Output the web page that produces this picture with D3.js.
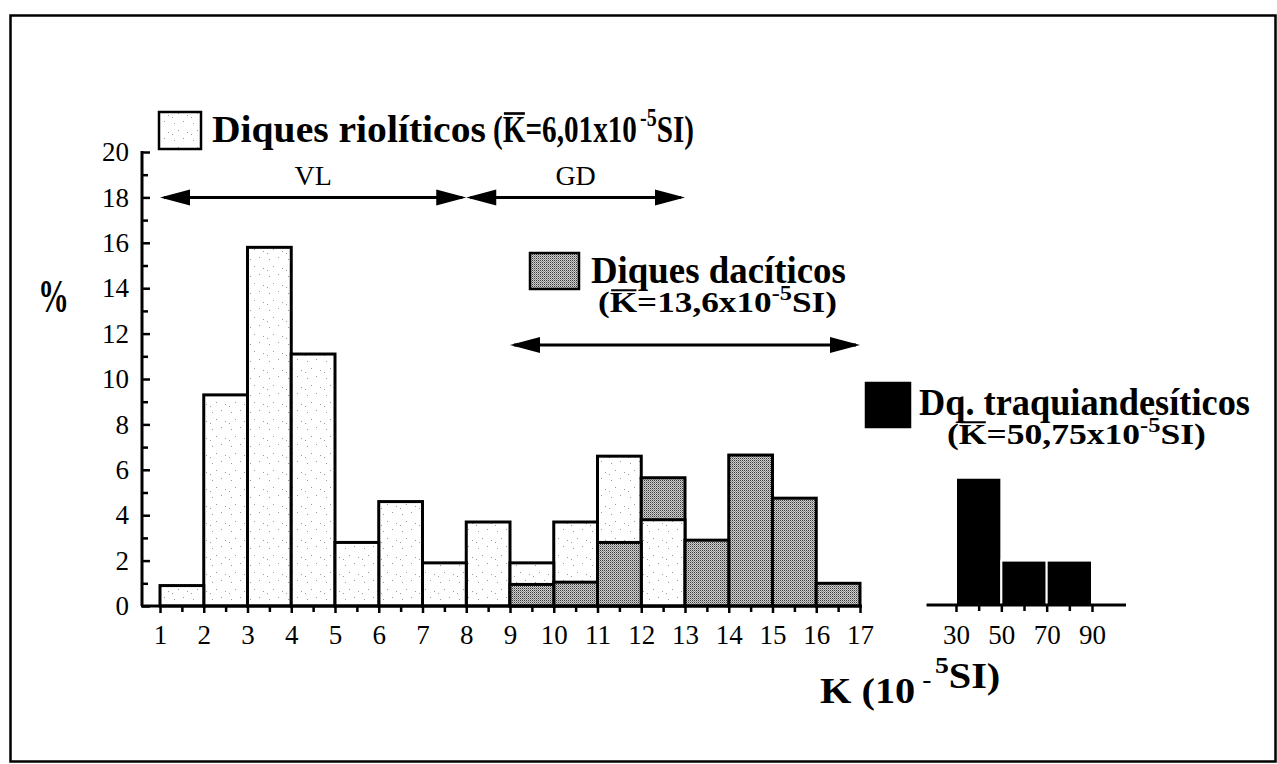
<!DOCTYPE html>
<html>
<head>
<meta charset="utf-8">
<script src="https://cdn.jsdelivr.net/npm/d3@7"></script>
<style>
  html, body { margin: 0; padding: 0; background: #fff; }
  svg text { font-family: "Liberation Serif", "Times New Roman", serif; fill: #000; }
</style>
</head>
<body>
<div id="root"></div>
<script>
// % of samples per bin of K (10^-5 SI), bins are 1 unit wide (left chart)
const rhyoliteBins = [1, 2, 3, 4, 5, 6, 7, 8, 9, 10, 11, 12]
const rhyoliteValues = [0.9, 9.3, 15.8, 11.1, 2.8, 4.6, 1.9, 3.7, 1.9, 3.7, 6.6, 3.8]

const daciteBins = [9, 10, 11, 12, 13, 14, 15, 16]
const daciteValues = [0.95, 1.05, 2.8, 5.65, 2.9, 6.65, 4.75, 1.0]

// right chart, bins 20 units wide
const traquiBins = [30, 50, 70]
const traquiValues = [5.65, 2.0, 2.0]

const yTickLabels = [0, 2, 4, 6, 8, 10, 12, 14, 16, 18, 20]
const xTickLabels = [1, 2, 3, 4, 5, 6, 7, 8, 9, 10, 11, 12, 13, 14, 15, 16, 17]
const traquiTickLabels = [30, 50, 70, 90]

// ranges drawn as arrows: [from, to, level]
const rangeVL = [1, 8, 18]
const rangeGD = [8, 13, 18]
const rangeDacite = [9, 17, 11.5]

const WIDTH = 1277
const HEIGHT = 764
const AXIS_X = 142

const svg = d3.select('#root')
    .append('svg')
    .attr('width', WIDTH)
    .attr('height', HEIGHT)

const x = d3.scaleLinear().domain([1, 17]).range([160, 860])
const y = d3.scaleLinear().domain([0, 20]).range([606, 152])
const x2 = d3.scaleLinear().domain([30, 90]).range([956, 1092])

// fills
const defs = svg.append('defs')
const rhyoPat = defs.append('pattern')
    .attr('id', 'rhyo')
    .attr('patternUnits', 'userSpaceOnUse')
    .attr('width', 19).attr('height', 17)
rhyoPat.append('rect').attr('width', 19).attr('height', 17).attr('fill', '#fff')
;[[3, 4], [12, 2], [7, 11], [16, 13], [1, 15]].forEach(([px, py]) => {
    rhyoPat.append('rect').attr('x', px).attr('y', py).attr('width', 1).attr('height', 1).attr('fill', '#9a9a9a')
})

const dacPat = defs.append('pattern')
    .attr('id', 'dac')
    .attr('patternUnits', 'userSpaceOnUse')
    .attr('width', 2).attr('height', 2)
dacPat.append('rect').attr('width', 2).attr('height', 2).attr('fill', '#cfcfcf')
dacPat.append('rect').attr('width', 1).attr('height', 1).attr('fill', '#3a3a3a')
dacPat.append('rect').attr('x', 1).attr('y', 1).attr('width', 1).attr('height', 1).attr('fill', '#8a8a8a')

// frame
svg.append('rect')
    .attr('x', 10.5).attr('y', 15.5)
    .attr('width', 1265).attr('height', 746)
    .attr('fill', 'none').attr('stroke', '#000').attr('stroke-width', 2.5)

// left histogram: rhyolite and dacite bars overlap, the taller is drawn behind
const bars = rhyoliteBins.map((b, i) => ({ b, v: rhyoliteValues[i], fill: 'url(#rhyo)' }))
    .concat(daciteBins.map((b, i) => ({ b, v: daciteValues[i], fill: 'url(#dac)' })))
    .sort((a, b) => b.v - a.v)

svg.append('g')
    .selectAll('rect')
    .data(bars)
    .enter()
    .append('rect')
    .attr('x', d => x(d.b))
    .attr('y', d => y(d.v))
    .attr('width', d => x(d.b + 1) - x(d.b))
    .attr('height', d => y(0) - y(d.v))
    .attr('fill', d => d.fill)
    .attr('stroke', '#000')
    .attr('stroke-width', 3)

// right histogram
svg.append('g')
    .selectAll('rect')
    .data(traquiBins.map((b, i) => ({ b, v: traquiValues[i] })))
    .enter()
    .append('rect')
    .attr('x', d => x2(d.b))
    .attr('y', d => y(d.v))
    .attr('width', d => x2(d.b + 20) - x2(d.b))
    .attr('height', d => y(0) - y(d.v))
    .attr('fill', '#000')
    .attr('stroke', '#fff')
    .attr('stroke-width', 2)

// axes
const styleAxis = g => {
    g.select('.domain').remove()
    g.selectAll('.tick line').attr('stroke', '#000').attr('stroke-width', 2.5)
    g.selectAll('.tick text').attr('font-size', 27)
}

svg.append('line')
    .attr('x1', AXIS_X).attr('x2', AXIS_X)
    .attr('y1', y(0)).attr('y2', y(20) - 1)
    .attr('stroke', '#000').attr('stroke-width', 3)

svg.append('g')
    .attr('transform', `translate(${AXIS_X},0)`)
    .call(d3.axisLeft(y).tickValues(yTickLabels).tickSize(-8).tickPadding(13))
    .call(styleAxis)

svg.append('g')
    .attr('transform', `translate(${AXIS_X},0)`)
    .call(d3.axisLeft(y).tickValues(d3.range(1, 20, 2)).tickSize(-6).tickFormat(''))
    .call(styleAxis)

svg.append('line')
    .attr('x1', AXIS_X - 1).attr('x2', x(17) + 2)
    .attr('y1', y(0)).attr('y2', y(0))
    .attr('stroke', '#000').attr('stroke-width', 3)

svg.append('g')
    .attr('transform', `translate(0,${y(0)})`)
    .call(d3.axisBottom(x).tickValues(xTickLabels).tickSize(7).tickPadding(12))
    .call(styleAxis)

svg.append('g')
    .attr('transform', `translate(0,${y(0)})`)
    .call(d3.axisBottom(x).tickValues(d3.range(1.5, 17, 1)).tickSize(6).tickFormat(''))
    .call(styleAxis)

svg.append('line')
    .attr('x1', x2(17)).attr('x2', x2(105))
    .attr('y1', y(0) - 1).attr('y2', y(0) - 1)
    .attr('stroke', '#000').attr('stroke-width', 3)

svg.append('g')
    .attr('transform', `translate(0,${y(0) - 1})`)
    .call(d3.axisBottom(x2).tickValues(traquiTickLabels).tickSize(7).tickPadding(13))
    .call(styleAxis)

svg.append('g')
    .attr('transform', `translate(0,${y(0) - 1})`)
    .call(d3.axisBottom(x2).tickValues([40, 60, 80]).tickSize(6).tickFormat(''))
    .call(styleAxis)

// double arrows
const arrow = ([from, to, level], scale) => {
    const g = svg.append('g')
    const x1 = scale(from), xe = scale(to), yy = y(level)
    const L = 30, H = 8
    g.append('line')
        .attr('x1', x1 + 4).attr('x2', xe - 4)
        .attr('y1', yy).attr('y2', yy)
        .attr('stroke', '#000').attr('stroke-width', 3)
    g.append('path')
        .attr('d', `M${x1},${yy}L${x1 + L},${yy - H}L${x1 + L},${yy + H}Z`)
        .attr('fill', '#000')
    g.append('path')
        .attr('d', `M${xe},${yy}L${xe - L},${yy - H}L${xe - L},${yy + H}Z`)
        .attr('fill', '#000')
}
arrow(rangeVL, x)
arrow(rangeGD, x)
arrow(rangeDacite, x)

// text helpers
// parts: plain strings, {over: 'K'} (letter with a bar) or {sup: '-5'}
const richText = (tx, ty, size, parts, width, weight = 'bold') => {
    const g = svg.append('g')
    const t = g.append('text')
        .attr('x', tx).attr('y', ty)
        .attr('font-size', size)
        .attr('font-weight', weight)
    const supSize = Math.round(size * 0.68)
    const rise = Math.round(size * 0.42)
    let raised = false
    let n = 0
    const bars = []
    parts.forEach(p => {
        const s = t.append('tspan')
        if (typeof p === 'string') {
            s.text(p)
            if (raised) { s.attr('dy', rise); raised = false }
            n += p.length
        } else if (p.over) {
            s.text(p.over)
            if (raised) { s.attr('dy', rise); raised = false }
            bars.push(n)
            n += p.over.length
        } else if (p.sup) {
            s.text(p.sup).attr('font-size', supSize).attr('dy', -rise).attr('dx', p.gap || 0)
            raised = true
            n += p.sup.length
        }
    })
    bars.forEach(i => {
        const e = t.node().getExtentOfChar(i)
        g.append('line')
            .attr('x1', e.x + size * 0.04).attr('x2', e.x + e.width - size * 0.02)
            .attr('y1', ty - size * 0.75).attr('y2', ty - size * 0.75)
            .attr('stroke', '#000').attr('stroke-width', Math.max(2, size * 0.07))
    })
    if (width) {
        const len = t.node().getComputedTextLength()
        g.attr('transform', `translate(${tx},0) scale(${width / len},1) translate(${-tx},0)`)
    }
    return g
}

// legend boxes
const legendBox = (bx, by, w, h, fill) => svg.append('rect')
    .attr('x', bx).attr('y', by).attr('width', w).attr('height', h)
    .attr('fill', fill).attr('stroke', '#000').attr('stroke-width', 2.5)

legendBox(159, 112, 42, 37, 'url(#rhyo)')
richText(212, 142, 38, ['Diques riolíticos'], 274)
richText(493, 142, 38, ['(', { over: 'K' }, '=6,01x10', { sup: '-5', gap: 4 }, 'SI)'], 198)

legendBox(530, 253, 49, 36, 'url(#dac)')
richText(591, 283, 38, ['Diques dacíticos'], 255)
richText(598, 312, 29, ['(', { over: 'K' }, '=13,6x10', { sup: '-5' }, 'SI)'], 239)

legendBox(866, 383, 44, 44, '#000')
richText(919, 415, 37, ['Dq. traquiandesíticos'], 331)
richText(947, 444, 29, ['(', { over: 'K' }, '=50,75x10', { sup: '-5' }, 'SI)'], 259)

// range labels
svg.append('text')
    .attr('x', (x(rangeVL[0]) + x(rangeVL[1])) / 2).attr('y', 185)
    .attr('text-anchor', 'middle').attr('font-size', 28)
    .text('VL')
svg.append('text')
    .attr('x', (x(rangeGD[0]) + x(rangeGD[1])) / 2).attr('y', 185)
    .attr('text-anchor', 'middle').attr('font-size', 28)
    .text('GD')

// axis titles
richText(38, 312, 46, ['%'], 31)

richText(820, 703, 35, ['K (10', { sup: '-', gap: 6 }, { sup: '5', gap: 3 }, 'SI)'], 170)
</script>
</body>
</html>
